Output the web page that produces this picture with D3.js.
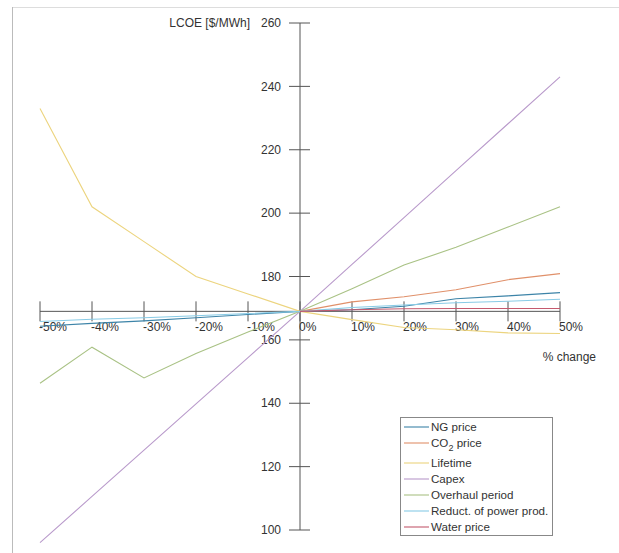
<!DOCTYPE html>
<html><head><meta charset="utf-8">
<script src="https://cdn.jsdelivr.net/npm/d3@7"></script>
<style>body{margin:0;background:#fff}svg{display:block}text{font-family:"Liberation Sans",Arial,sans-serif;fill:#333}</style>
</head><body>
<svg id="c" width="619" height="553"></svg>
<script>
const pctChange = [-50,-40,-30,-20,-10,0,10,20,30,40,50];
const xTickLabels = ["-50%","-40%","-30%","-20%","-10%","0%","10%","20%","30%","40%","50%"];
const yTicks = [100,120,140,160,180,200,220,240,260];
const seriesNames = ["NG price","CO2 price","Lifetime","Capex","Overhaul period","Reduct. of power prod.","Water price"];
const ngPrice    = [164.3,165.2,166.0,167.0,168.0,169,169.5,170.6,173.0,173.9,174.9];
const co2Price   = [null,null,null,null,null,169,172.0,173.6,175.8,179.0,180.9];
const lifetime   = [233,202,191,180,174.5,169,166.4,163.9,163.2,162.2,162.0];
const capex      = [96,110.6,125.2,139.8,154.4,169,183.8,198.6,213.4,228.2,243];
const overhaul   = [146.3,157.7,148.0,155.7,162.5,169,176.1,183.6,189.2,195.6,202.0];
const reductPower= [165.8,166.5,167.0,167.6,168.3,169,170.2,171.0,171.7,172.2,172.8];
const waterPrice = [null,null,null,null,null,169,169.5,169.8,169.9,169.9,169.9];
const baseLCOE = 169;
const colors = ["#3d84a8","#e0906a","#ecd47e","#b99acb","#a9c285","#88cbe6","#c45a6e"];

const allSeries = [ngPrice,co2Price,lifetime,capex,overhaul,reductPower,waterPrice];
const svg = d3.select("#c");
const x = d3.scaleLinear().domain([-50,50]).range([40,560]);
const y = d3.scaleLinear().domain([100,260]).range([530,23]);
const axisColor = "#555";

// frame
svg.append("line").attr("x1",12).attr("x2",619).attr("y1",7.5).attr("y2",7.5).attr("stroke","#ddd");
svg.append("line").attr("x1",12.5).attr("x2",12.5).attr("y1",7).attr("y2",553).attr("stroke","#bbb");

const x0 = x(0), yb = y(baseLCOE);
// y axis
svg.append("line").attr("x1",x0).attr("x2",x0).attr("y1",y(260)).attr("y2",y(100)).attr("stroke",axisColor);
yTicks.forEach(t=>{
  svg.append("line").attr("x1",x0-11).attr("x2",x0+10).attr("y1",y(t)).attr("y2",y(t)).attr("stroke",axisColor);
  svg.append("text").attr("x",x0-19).attr("y",y(t)).attr("dy","0.35em").attr("text-anchor","end").attr("font-size",12).text(t);
});
svg.append("text").attr("x",250).attr("y",y(260)).attr("dy","0.35em").attr("text-anchor","end").attr("font-size",12).text("LCOE [$/MWh]");
// x axis
svg.append("line").attr("x1",x(-50)).attr("x2",x(50)).attr("y1",yb).attr("y2",yb).attr("stroke",axisColor);
pctChange.forEach((p,i)=>{
  svg.append("line").attr("x1",x(p)).attr("x2",x(p)).attr("y1",yb-10).attr("y2",yb+10).attr("stroke",axisColor);
  svg.append("text").attr("x",x(p)-1).attr("y",yb+20).attr("font-size",12).text(xTickLabels[i]);
});
svg.append("text").attr("x",596).attr("y",361).attr("text-anchor","end").attr("font-size",12).text("% change");

// lines
const line = d3.line().defined(d=>d[1]!==null).x(d=>x(d[0])).y(d=>y(d[1]));
allSeries.forEach((s,i)=>{
  svg.append("path").datum(pctChange.map((p,j)=>[p,s[j]]))
    .attr("d",line).attr("fill","none").attr("stroke",colors[i]).attr("stroke-width",1.1);
});

// legend
const lg = svg.append("g");
lg.append("rect").attr("x",400.5).attr("y",417.5).attr("width",152).attr("height",118).attr("fill","#fff").attr("stroke","#888");
seriesNames.forEach((n,i)=>{
  const ly = 427 + i*16 + (i>=2?4:0);
  lg.append("line").attr("x1",404).attr("x2",429).attr("y1",ly).attr("y2",ly).attr("stroke",colors[i]).attr("stroke-width",1.1);
  const t = lg.append("text").attr("x",431).attr("y",ly).attr("dy","0.35em").attr("font-size",11.6);
  if(n==="CO2 price"){
    t.append("tspan").text("CO");
    t.append("tspan").attr("font-size",9).attr("dy",4).text("2");
    t.append("tspan").attr("dy",-4).text(" price");
  } else t.text(n);
});
</script>
</body></html>
